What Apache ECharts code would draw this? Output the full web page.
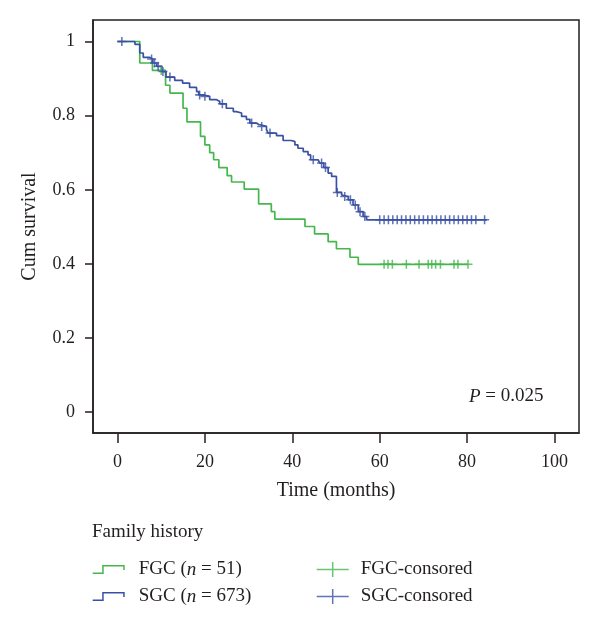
<!DOCTYPE html>
<html>
<head>
<meta charset="utf-8">
<script src="https://cdn.jsdelivr.net/npm/echarts@6/dist/echarts.min.js"></script>
<style>
html,body{margin:0;padding:0;background:#fff;}
#chart{width:600px;height:636px;}
</style>
</head>
<body>
<div id="chart"></div>
<script>
// ---- data ----
const xTicks = [0, 20, 40, 60, 80, 100];
const yTicks = [0, 0.2, 0.4, 0.6, 0.8, 1];

// FGC (n = 51): event times and survival after each step
const fgcTime = [0, 5.1, 8.0, 11.0, 12.0, 15.0, 15.9, 19.0, 20.0, 21.1, 22.0, 23.2, 25.1, 26.1, 29.0, 32.3, 35.2, 36.0, 42.9, 45.1, 48.2, 50.1, 53.2, 55.1, 80.2];
const fgcSurv = [1.0, 0.942, 0.922, 0.882, 0.861, 0.820, 0.783, 0.744, 0.721, 0.700, 0.681, 0.660, 0.638, 0.621, 0.602, 0.562, 0.541, 0.521, 0.501, 0.481, 0.460, 0.441, 0.418, 0.399, 0.399];
const fgcCensored = [10.0, 61.0, 61.9, 62.9, 66.1, 69.0, 71.1, 71.9, 72.8, 73.9, 77.0, 77.9, 80.2];

// SGC (n = 673)
const sgcTime = [0, 4.0, 5.1, 5.9, 7.4, 8.1, 9.0, 10.1, 11.1, 13.1, 14.9, 16.5, 18.1, 18.6, 19.5, 21.1, 22.7, 23.4, 24.9, 26.5, 27.2, 28.4, 29.5, 30.3, 31.8, 32.3, 34.1, 34.5, 36.4, 37.9, 39.8, 40.6, 41.3, 42.5, 43.6, 44.2, 45.9, 46.3, 47.2, 48.2, 49.0, 50.1, 51.3, 51.6, 52.8, 53.9, 55.1, 56.2, 57.0, 84.5];
const sgcSurv = [1.0, 0.992, 0.969, 0.957, 0.953, 0.942, 0.933, 0.919, 0.904, 0.895, 0.888, 0.876, 0.865, 0.856, 0.852, 0.843, 0.838, 0.832, 0.820, 0.811, 0.807, 0.798, 0.790, 0.780, 0.776, 0.771, 0.762, 0.753, 0.746, 0.733, 0.730, 0.721, 0.712, 0.703, 0.694, 0.681, 0.676, 0.672, 0.660, 0.645, 0.636, 0.593, 0.586, 0.582, 0.573, 0.559, 0.541, 0.528, 0.519, 0.519];
const sgcCensored = [1.0, 7.8, 8.5, 9.3, 10.4, 12.0, 18.8, 20.0, 24.0, 30.7, 33.0, 34.9, 44.8, 46.7, 47.6, 50.3, 52.0, 53.3, 54.4, 55.5, 56.6,
  60, 61, 62, 63, 64, 65, 66, 67, 68, 69, 70, 71, 72, 73, 74, 75, 76, 77, 78, 79, 80, 81, 82, 84];

const seriesNames = ['FGC', 'SGC'];
const censorNames = ['FGC-consored', 'SGC-consored'];
const legendLabels = {FGC: ['FGC (', 'n', ' = 51)'], SGC: ['SGC (', 'n', ' = 673)']};
const pValue = '0.025';

// ---- helpers ----
function survAt(times, surv, t) {
  let s = surv[0];
  for (let i = 0; i < times.length; i++) { if (times[i] <= t + 1e-9) s = surv[i]; }
  return s;
}
const pairs = (a, b) => a.map((v, i) => [v, b[i]]);

const GREEN = '#45b74d';
const BLUE = '#3a51a3';
const INK = '#231f20';
const FONT = '"Liberation Serif", "DejaVu Serif", serif';
const PLUS = 'path://M-0.17,-1H0.17V-0.17H1V0.17H0.17V1H-0.17V0.17H-1V-0.17H-0.17Z';
const STEP_ICON = 'path://M0,7.5H11V9H0Z M9.5,0H11V9H9.5Z M9.5,0H32V1.5H9.5Z M30.5,0H32V5H30.5Z';
const PLUS_ICON = 'path://M0,6.75H32V8.25H0Z M15.25,0H16.75V15H15.25Z';

const chart = echarts.init(document.getElementById('chart'), null, {renderer: 'canvas'});

const option = {
  animation: false,
  backgroundColor: '#fff',
  grid: {left: 93, right: 21, top: 20, bottom: 203, show: true, borderColor: INK, borderWidth: 1.5, backgroundColor: 'transparent'},
  title: {
    text: 'Family history', left: 92, top: 523, padding: 0,
    textStyle: {fontFamily: FONT, fontSize: 19, fontWeight: 'normal', color: INK}
  },
  xAxis: {
    type: 'value', min: -5.6, max: 105.6,
    name: 'Time (months)', nameLocation: 'middle', nameGap: 48,
    nameTextStyle: {fontFamily: FONT, fontSize: 20, color: INK},
    axisLine: {show: true, onZero: false, lineStyle: {color: INK, width: 1.5}},
    axisTick: {show: true, length: 10, customValues: xTicks, lineStyle: {color: INK, width: 1.5}},
    axisLabel: {customValues: xTicks, margin: 20, fontFamily: FONT, fontSize: 18, color: INK},
    splitLine: {show: false}
  },
  yAxis: {
    type: 'value', min: -0.056, max: 1.058,
    name: 'Cum survival', nameLocation: 'middle', nameGap: 53,
    nameTextStyle: {fontFamily: FONT, fontSize: 20, color: INK},
    axisLine: {show: true, onZero: false, lineStyle: {color: INK, width: 1.5}},
    axisTick: {show: true, length: 8, customValues: yTicks, lineStyle: {color: INK, width: 1.5}},
    axisLabel: {customValues: yTicks, margin: 18, fontFamily: FONT, fontSize: 18, color: INK,
      formatter: v => String(v)},
    splitLine: {show: false}
  },
  legend: [
    {
      data: seriesNames.map(n => ({name: n, icon: STEP_ICON})),
      orient: 'vertical', left: 92.7, top: 560, padding: 0,
      itemWidth: 32, itemHeight: 9, itemGap: 8, selectedMode: false,
      itemStyle: {borderWidth: 0},
      formatter: name => `{r|${legendLabels[name][0]}}{i|${legendLabels[name][1]}}{r|${legendLabels[name][2]}}`,
      textStyle: {
        padding: [0, 0, 0, 9], lineHeight: 18, color: INK,
        rich: {
          r: {fontFamily: FONT, fontSize: 19, color: INK, lineHeight: 18},
          i: {fontFamily: FONT, fontSize: 19, color: INK, fontStyle: 'italic', lineHeight: 18}
        }
      }
    },
    {
      data: censorNames.map(n => ({name: n, icon: PLUS_ICON})),
      orient: 'vertical', left: 316.7, top: 560, padding: 0,
      itemWidth: 32, itemHeight: 15, itemGap: 8, selectedMode: false,
      itemStyle: {borderWidth: 0},
      textStyle: {padding: [0, 0, 0, 7], fontFamily: FONT, fontSize: 19, color: INK, lineHeight: 18}
    }
  ],
  graphic: [{
    type: 'text', left: 469, top: 387,
    style: {
      text: '{i|P} = ' + pValue,
      font: '19px "Liberation Serif"', fill: INK,
      rich: {i: {fontStyle: 'italic', fontFamily: FONT, fontSize: 19, fill: INK}}
    }
  }],
  series: [
    {
      name: seriesNames[0], type: 'line', step: 'end', showSymbol: false, symbol: 'none',
      data: pairs(fgcTime, fgcSurv), color: GREEN,
      lineStyle: {color: GREEN, width: 1.7}, itemStyle: {color: GREEN, borderWidth: 0}, z: 2
    },
    {
      name: seriesNames[1], type: 'line', step: 'end', showSymbol: false, symbol: 'none',
      data: pairs(sgcTime, sgcSurv), color: BLUE,
      lineStyle: {color: BLUE, width: 1.7}, itemStyle: {color: BLUE, borderWidth: 0}, z: 3
    },
    {
      name: censorNames[0], type: 'scatter', symbol: PLUS, symbolSize: 9,
      data: fgcCensored.map(t => [t, survAt(fgcTime, fgcSurv, t)]),
      itemStyle: {color: GREEN, borderWidth: 0}, z: 4
    },
    {
      name: censorNames[1], type: 'scatter', symbol: PLUS, symbolSize: 9,
      data: sgcCensored.map(t => [t, survAt(sgcTime, sgcSurv, t)]),
      itemStyle: {color: BLUE, borderWidth: 0}, z: 5
    }
  ]
};
chart.setOption(option);
</script>
</body>
</html>
